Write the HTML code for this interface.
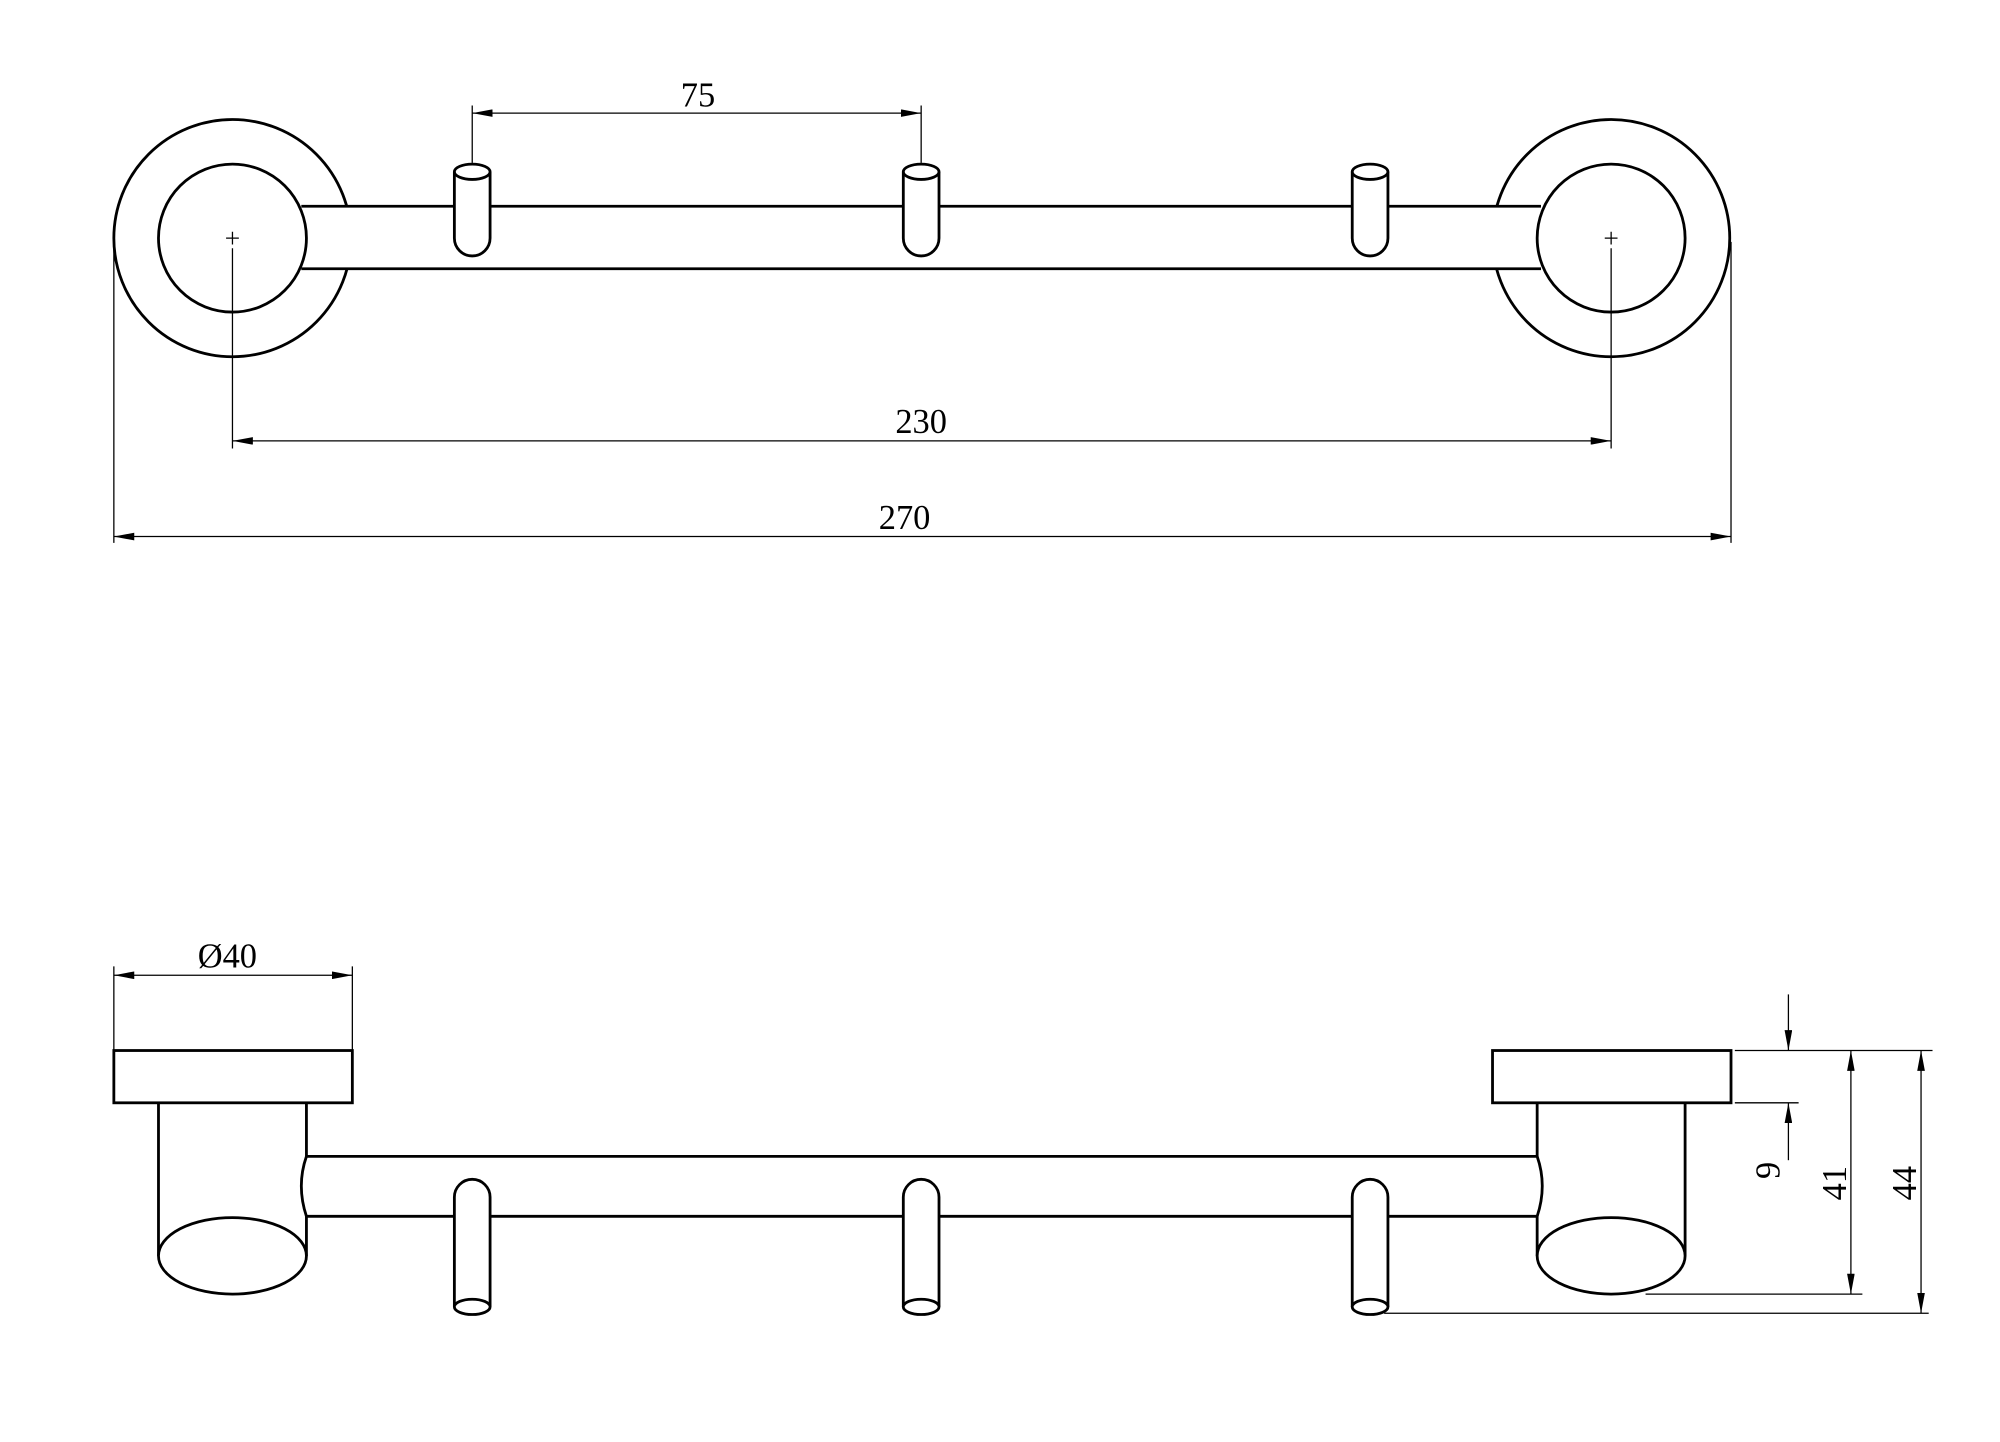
<!DOCTYPE html>
<html><head><style>html,body{margin:0;padding:0;background:#fff}svg{display:block}</style></head><body>
<svg width="2000" height="1442" viewBox="0 0 1560 1125" xmlns="http://www.w3.org/2000/svg">
<defs>
<marker id="a" viewBox="0 0 16 6" refX="16" refY="3" markerWidth="16" markerHeight="6" orient="auto-start-reverse" markerUnits="userSpaceOnUse"><path d="M0,0 L16,3 L0,6 z" fill="#000"/></marker>
</defs>
<g transform="translate(0.1,-0.3) scale(0.995)">
<g fill="#fff" stroke="#000" stroke-width="2.2">
<circle cx="182" cy="187" r="93"/>
<circle cx="1263" cy="187" r="93"/>
<rect x="236" y="162" width="972" height="49" stroke="none"/>
<line x1="236" y1="162" x2="1208" y2="162"/>
<line x1="236" y1="211" x2="1208" y2="211"/>
<circle cx="182" cy="187" r="58"/>
<circle cx="1263" cy="187" r="58"/>
<g id="h"><path d="M356,135 V187 A14,14 0 0 0 384,187 V135"/><ellipse cx="370" cy="135" rx="14" ry="6"/></g>
<use href="#h" x="352"/><use href="#h" x="704"/>
<rect x="89" y="824" width="187" height="41"/>
<rect x="1170" y="824" width="187" height="41"/>
<path d="M124,865 V985 M240,865 V985"/>
<path d="M1205,865 V985 M1321,865 V985"/>
<path d="M240,907 H1205 Q1213,930 1205,954 H240 Q232,930 240,907 Z"/>
<ellipse cx="182" cy="985" rx="58" ry="30"/>
<ellipse cx="1263" cy="985" rx="58" ry="30"/>
<g id="k"><path d="M356,1025 V939 A14,14 0 0 1 384,939 V1025"/><ellipse cx="370" cy="1025" rx="14" ry="6"/></g>
<use href="#k" x="352"/><use href="#k" x="704"/>
</g>
<g stroke="#000" stroke-width="1" fill="none">
<path d="M177,187 H187 M182,182 V192 M1258,187 H1268 M1263,182 V192"/>
<path d="M182,195 V352 M1263,195 V352 M89,190 V426 M1357,190 V426 M370,83 V128 M722,83 V128"/>
<line x1="370" y1="89" x2="722" y2="89" marker-start="url(#a)" marker-end="url(#a)"/>
<line x1="182" y1="346" x2="1263" y2="346" marker-start="url(#a)" marker-end="url(#a)"/>
<line x1="89" y1="421" x2="1357" y2="421" marker-start="url(#a)" marker-end="url(#a)"/>
<path d="M89,758 V824 M276,758 V824"/>
<line x1="89" y1="765" x2="276" y2="765" marker-start="url(#a)" marker-end="url(#a)"/>
<path d="M1360,824 H1515 M1360,865 H1410 M1290,1015 H1460 M1085,1030 H1512"/>
<line x1="1402" y1="780" x2="1402" y2="824" marker-end="url(#a)"/>
<line x1="1402" y1="910" x2="1402" y2="865" marker-end="url(#a)"/>
<line x1="1451" y1="824" x2="1451" y2="1015" marker-start="url(#a)" marker-end="url(#a)"/>
<line x1="1506" y1="824" x2="1506" y2="1030" marker-start="url(#a)" marker-end="url(#a)"/>
</g>
<g font-family="Liberation Serif, serif" font-size="27" fill="#000" text-anchor="middle">
<text x="547" y="84">75</text>
<text x="722" y="340">230</text>
<text x="709" y="415">270</text>
<text x="178" y="759">Ø40</text>
<text transform="translate(1395,918) rotate(-90)">9</text>
<text transform="translate(1447,928) rotate(-90)">41</text>
<text transform="translate(1502,928) rotate(-90)">44</text>
</g>
</g>
</svg>
</body></html>
